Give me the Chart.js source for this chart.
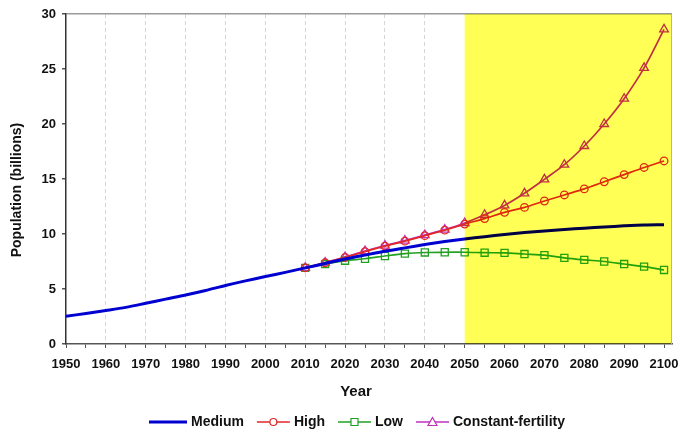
<!DOCTYPE html>
<html>
<head>
<meta charset="utf-8">
<title>World population projections</title>
<script src="https://cdn.jsdelivr.net/npm/chart.js@4.4.1/dist/chart.umd.min.js"></script>
<style>
    html, body { margin: 0; padding: 0; background: #fff; }
    #wrap { width: 680px; height: 439px; }
</style>
</head>
<body>
<div id="wrap"><canvas id="popChart"></canvas></div>
<script>
// ===== data (billions) =====
const years = [1950, 1955, 1960, 1965, 1970, 1975, 1980, 1985, 1990, 1995, 2000, 2005,
               2010, 2015, 2020, 2025, 2030, 2035, 2040, 2045, 2050, 2055, 2060, 2065,
               2070, 2075, 2080, 2085, 2090, 2095, 2100];
const projYears = [2010, 2015, 2020, 2025, 2030, 2035, 2040, 2045, 2050, 2055,
                   2060, 2065, 2070, 2075, 2080, 2085, 2090, 2095, 2100];

const medium = [2.53, 2.77, 3.04, 3.33, 3.70, 4.08, 4.45, 4.86, 5.32, 5.74, 6.13, 6.51,
                6.92, 7.32, 7.72, 8.08, 8.43, 8.74, 9.04, 9.31, 9.55, 9.76, 9.96, 10.13,
                10.28, 10.41, 10.53, 10.64, 10.74, 10.82, 10.85];
const high = [6.92, 7.38, 7.87, 8.40, 8.90, 9.35, 9.85, 10.35, 10.90, 11.40,
              11.97, 12.42, 13.00, 13.55, 14.10, 14.75, 15.40, 16.05, 16.64];
const low = [6.92, 7.26, 7.57, 7.75, 8.00, 8.22, 8.32, 8.34, 8.34, 8.30,
             8.28, 8.18, 8.08, 7.83, 7.65, 7.50, 7.27, 7.03, 6.73];
const constantFertility = [6.92, 7.40, 7.90, 8.45, 8.95, 9.40, 9.90, 10.40, 11.00, 11.75,
                           12.60, 13.70, 14.97, 16.30, 18.00, 20.00, 22.30, 25.10, 28.60];

const seriesNames = ['Medium', 'High', 'Low', 'Constant-fertility'];
const xTicks = [1950, 1955, 1960, 1965, 1970, 1975, 1980, 1985, 1990, 1995, 2000, 2005,
                2010, 2015, 2020, 2025, 2030, 2035, 2040, 2045, 2050, 2055, 2060, 2065,
                2070, 2075, 2080, 2085, 2090, 2095, 2100];
const yTicks = [0, 5, 10, 15, 20, 25, 30];
const projectionStart = 2050;
const xTitle = 'Year';
const yTitle = 'Population (billions)';

const FONT = "'Liberation Sans', Arial, sans-serif";

function points(xs, ys) {
    return xs.map((x, i) => ({ x: x, y: ys[i] }));
}

// yellow projection band, multiplied over the lines like the original
const shadePlugin = {
    id: 'projectionShade',
    afterDatasetsDraw(chart) {
        const { ctx, chartArea, scales } = chart;
        const x0 = scales.x.getPixelForValue(projectionStart);
        ctx.save();
        ctx.globalCompositeOperation = 'multiply';
        ctx.fillStyle = '#FFFF55';
        ctx.fillRect(x0, chartArea.top, chartArea.right - x0, chartArea.bottom - chartArea.top);
        ctx.restore();
        ctx.save();
        ctx.strokeStyle = '#b8b888';
        ctx.lineWidth = 1;
        ctx.beginPath();
        ctx.moveTo(chartArea.right - 0.5, chartArea.top);
        ctx.lineTo(chartArea.right - 0.5, chartArea.bottom);
        ctx.stroke();
        ctx.restore();
    }
};

// axis titles + legend with line-and-marker samples
function drawMarker(ctx, style, x, y) {
    ctx.beginPath();
    if (style === 'circle') {
        ctx.arc(x, y, 3.5, 0, Math.PI * 2);
    } else if (style === 'rect') {
        ctx.rect(x - 3.5, y - 3.5, 7, 7);
    } else if (style === 'triangle') {
        ctx.moveTo(x, y - 4.5);
        ctx.lineTo(x + 4.5, y + 3.5);
        ctx.lineTo(x - 4.5, y + 3.5);
        ctx.closePath();
    }
    ctx.fill();
    ctx.stroke();
}

const textPlugin = {
    id: 'textBits',
    afterDraw(chart) {
        const ctx = chart.ctx;
        ctx.save();
        ctx.fillStyle = '#111';
        ctx.textAlign = 'center';
        ctx.textBaseline = 'middle';

        ctx.font = 'bold 15px ' + FONT;
        ctx.fillText(xTitle, 356, 392);

        ctx.save();
        ctx.translate(17, 190);
        ctx.rotate(-Math.PI / 2);
        ctx.font = 'bold 14px ' + FONT;
        ctx.fillText(yTitle, 0, 0);
        ctx.restore();

        // legend
        ctx.font = 'bold 14px ' + FONT;
        ctx.textAlign = 'left';
        const ly = 422;
        let lx = 149;
        chart.data.datasets.forEach((ds, i) => {
            const w = i === 0 ? 38 : 33;
            ctx.strokeStyle = ds.borderColor;
            ctx.lineWidth = i === 0 ? 3 : 1.3;
            ctx.beginPath();
            ctx.moveTo(lx, ly);
            ctx.lineTo(lx + w, ly);
            ctx.stroke();
            if (ds.pointRadius > 0) {
                ctx.fillStyle = '#fff';
                ctx.lineWidth = 1.2;
                drawMarker(ctx, ds.pointStyle, lx + w / 2, ly);
            }
            ctx.fillStyle = '#111';
            ctx.fillText(ds.label, lx + w + 4, ly);
            lx += w + 4 + ctx.measureText(ds.label).width + 13;
        });
        ctx.restore();
    }
};

const scenario = (label, xs, ys, color, style, r) => ({
    label: label,
    data: points(xs, ys),
    borderColor: color,
    backgroundColor: 'rgba(0,0,0,0)',
    borderWidth: 1.7,
    pointStyle: style,
    pointRadius: r,
    pointBorderWidth: 1.3,
    pointBorderColor: color,
    pointBackgroundColor: 'rgba(0,0,0,0)',
    tension: 0.3
});

new Chart(document.getElementById('popChart'), {
    type: 'line',
    data: {
        datasets: [
            {
                label: seriesNames[0],
                data: points(years, medium),
                borderColor: '#0000D0',
                borderWidth: 3,
                pointRadius: 0,
                tension: 0.3
            },
            scenario(seriesNames[1], projYears, high, '#E02828', 'circle', 3.8),
            scenario(seriesNames[2], projYears, low, '#22A022', 'rect', 5),
            scenario(seriesNames[3], projYears, constantFertility, '#C030C0', 'triangle', 5)
        ]
    },
    options: {
        responsive: true,
        maintainAspectRatio: false,
        animation: false,
        events: [],
        layout: { padding: { top: 14, right: 8, left: 0, bottom: 0 } },
        plugins: {
            legend: { display: false },
            tooltip: { enabled: false }
        },
        scales: {
            x: {
                type: 'linear',
                min: 1950,
                max: 2102,
                afterBuildTicks: scale => { scale.ticks = xTicks.map(v => ({ value: v })); },
                afterFit: scale => {
                    scale.height = 95;
                    scale.paddingLeft = 0;
                    scale.paddingRight = 0;
                },
                grid: {
                    color: ctx => (ctx.tick && ctx.tick.value % 10 === 0 &&
                        ctx.tick.value > 1950 && ctx.tick.value < projectionStart) ? '#d6d6d6' : 'rgba(0,0,0,0)',
                    tickColor: '#555',
                    tickLength: 4
                },
                border: { color: '#555', width: 1.5, dash: [4, 3] },
                ticks: {
                    autoSkip: false,
                    maxRotation: 0,
                    padding: 9,
                    color: '#111',
                    font: { family: FONT, size: 13, weight: 'bold' },
                    callback: v => (v % 10 === 0 ? String(v) : '')
                }
            },
            y: {
                min: 0,
                max: 30,
                afterBuildTicks: scale => { scale.ticks = yTicks.map(v => ({ value: v })); },
                afterFit: scale => {
                    scale.width = 66;
                    scale.paddingTop = 0;
                    scale.paddingBottom = 0;
                },
                grid: {
                    color: ctx => (ctx.tick && ctx.tick.value === 30) ? '#9a9a9a' : 'rgba(0,0,0,0)',
                    tickColor: '#555',
                    tickLength: 4,
                    lineWidth: 1.5
                },
                border: { color: '#333', width: 1.5 },
                ticks: {
                    padding: 6,
                    color: '#111',
                    font: { family: FONT, size: 13, weight: 'bold' }
                }
            }
        }
    },
    plugins: [shadePlugin, textPlugin]
});
</script>
</body>
</html>
